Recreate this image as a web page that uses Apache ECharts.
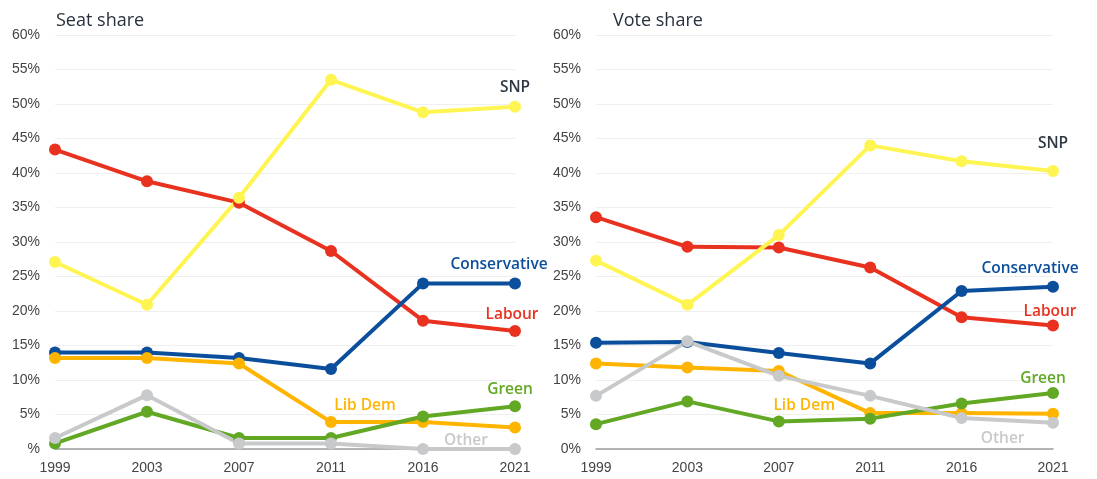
<!DOCTYPE html>
<html>
<head>
<meta charset="utf-8">
<script src="https://cdn.jsdelivr.net/npm/echarts@6/dist/echarts.min.js"></script>
<style>
  html, body { margin: 0; padding: 0; background: #fff; }
  #chart { width: 1097px; height: 479px; }
</style>
</head>
<body>
<div id="chart"></div>
<script>
const years = ['1999', '2003', '2007', '2011', '2016', '2021']
const yTicks = [0, 5, 10, 15, 20, 25, 30, 35, 40, 45, 50, 55, 60]

// seat share (%)
const seatLabour = [43.4, 38.8, 35.7, 28.7, 18.6, 17.1]
const seatConservative = [14.0, 14.0, 13.2, 11.6, 24.0, 24.0]
const seatLibDem = [13.2, 13.2, 12.4, 3.9, 3.9, 3.1]
const seatGreen = [0.8, 5.4, 1.6, 1.6, 4.7, 6.2]
const seatOther = [1.6, 7.8, 0.8, 0.8, 0, 0]
const seatSNP = [27.1, 20.9, 36.4, 53.5, 48.8, 49.6]

// vote share (%)
const voteLabour = [33.6, 29.3, 29.2, 26.3, 19.1, 17.9]
const voteConservative = [15.4, 15.5, 13.9, 12.4, 22.9, 23.5]
const voteLibDem = [12.4, 11.8, 11.3, 5.2, 5.2, 5.1]
const voteGreen = [3.6, 6.9, 4.0, 4.4, 6.6, 8.1]
const voteOther = [7.7, 15.6, 10.6, 7.7, 4.5, 3.8]
const voteSNP = [27.3, 20.9, 31.0, 44.0, 41.7, 40.3]

const colors = {
  Labour: '#e8321f',
  Conservative: '#0b4f9c',
  'Lib Dem': '#ffb400',
  Green: '#62a824',
  Other: '#c8c9cb',
  SNP: '#fff552'
}
const labelColors = {
  Labour: '#e8321f',
  Conservative: '#0b4f9c',
  'Lib Dem': '#ffb400',
  Green: '#62a824',
  Other: '#c8c9cb',
  SNP: '#2e3843'
}

const chart = echarts.init(document.getElementById('chart'))

function xAxisFor(idx) {
  return {
    type: 'category',
    gridIndex: idx,
    data: years,
    boundaryGap: false,
    axisLine: { lineStyle: { color: '#9a9ea3', width: 1.5 } },
    axisTick: { show: false },
    axisLabel: { color: '#444', fontSize: 14, fontFamily: 'Liberation Sans', margin: 12 }
  }
}

function yAxisFor(idx) {
  return {
    type: 'value',
    gridIndex: idx,
    min: yTicks[0],
    max: yTicks[yTicks.length - 1],
    interval: 5,
    axisLine: { show: false },
    axisTick: { show: false },
    axisLabel: {
      color: '#444',
      fontSize: 14,
      fontFamily: 'Liberation Sans',
      margin: 15,
      formatter: v => (idx === 0 && v === 0 ? '%' : v + '%')
    },
    splitLine: { lineStyle: { color: '#efefef', width: 1 } }
  }
}

// put the party name on one point, nudged to where the reference has it
function withLabel(values, name, at, offset) {
  return values.map((v, i) => {
    if (i !== at) return v
    return {
      value: v,
      label: {
        show: true,
        position: 'top',
        offset: offset,
        formatter: name,
        color: labelColors[name],
        fontSize: 15.5,
        fontWeight: 600,
        fontFamily: 'Open Sans'
      }
    }
  })
}

function line(name, data, idx) {
  return {
    name: name,
    type: 'line',
    xAxisIndex: idx,
    yAxisIndex: idx,
    data: data,
    symbol: 'circle',
    symbolSize: 12,
    lineStyle: { width: 4, color: colors[name] },
    itemStyle: { color: colors[name] },
    emphasis: { disabled: true },
    animation: false
  }
}

chart.setOption({
  title: [
    { text: 'Seat share', left: 51, top: 7, textStyle: { fontSize: 18, fontWeight: 500, color: '#27313c', fontFamily: 'Open Sans' } },
    { text: 'Vote share', left: 608, top: 7, textStyle: { fontSize: 18, fontWeight: 500, color: '#27313c', fontFamily: 'Open Sans' } }
  ],
  grid: [
    { left: 55, right: 582, top: 35, bottom: 30 },
    { left: 596, right: 44, top: 35, bottom: 30 }
  ],
  xAxis: [xAxisFor(0), xAxisFor(1)],
  yAxis: [yAxisFor(0), yAxisFor(1)],
  series: [
    line('Labour', withLabel(seatLabour, 'Labour', 5, [-3, 3]), 0),
    line('Conservative', withLabel(seatConservative, 'Conservative', 5, [-16, 0]), 0),
    line('Lib Dem', withLabel(seatLibDem, 'Lib Dem', 3, [34, 2]), 0),
    line('Green', withLabel(seatGreen, 'Green', 5, [-5, 2]), 0),
    line('Other', withLabel(seatOther, 'Other', 4, [43, 11]), 0),
    line('SNP', withLabel(seatSNP, 'SNP', 5, [0, 0]), 0),

    line('Labour', withLabel(voteLabour, 'Labour', 5, [-3, 5]), 1),
    line('Conservative', withLabel(voteConservative, 'Conservative', 5, [-23, 1]), 1),
    line('Lib Dem', withLabel(voteLibDem, 'Lib Dem', 3, [-66, 11]), 1),
    line('Green', withLabel(voteGreen, 'Green', 5, [-10, 4]), 1),
    line('Other', withLabel(voteOther, 'Other', 4, [41, 40]), 1),
    line('SNP', withLabel(voteSNP, 'SNP', 5, [0, -8]), 1)
  ]
})
</script>
</body>
</html>
